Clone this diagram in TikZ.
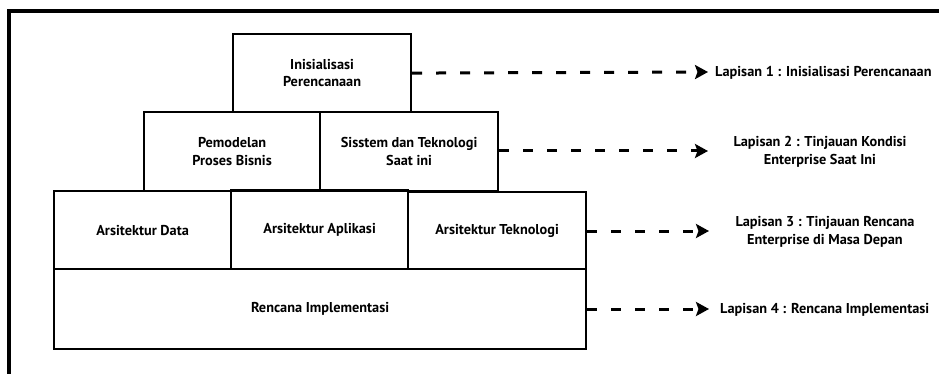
\documentclass[tikz,border=0pt]{standalone}
\usepackage{fontspec}
\setmainfont{PT Sans}
\usetikzlibrary{arrows.meta}
\begin{document}
\begin{tikzpicture}[x=1pt,y=-1pt,
  box/.style={draw, line width=2.2pt, anchor=north west, inner sep=0pt, align=center,
    font=\bfseries\fontsize{14.3}{17.5}\selectfont},
  lab/.style={inner sep=0pt, align=center, font=\bfseries\fontsize{14.3}{17.5}\selectfont},
  arr/.style={line width=3pt, dash pattern=on 10pt off 14pt, -{Stealth[length=13pt,width=14pt,inset=2.5pt]}}
]
\useasboundingbox (0,0) rectangle (939,374);
\draw[line width=4pt] (9,374) -- (9,11) -- (939,11);
\node[box, minimum width=178pt, minimum height=78pt] (init) at (232,33) {Inisialisasi\\Perencanaan};
\node[box, minimum width=176pt, minimum height=79pt] (pem) at (143,111) {Pemodelan\\Proses Bisnis};
\node[box, minimum width=178pt, minimum height=79pt] (sis) at (319,111) {Sisstem dan Teknologi\\Saat ini};
\node[box, minimum width=177pt, minimum height=78pt] (data) at (53,190) {Arsitektur Data};
\node[box, minimum width=177pt, minimum height=79pt] (apl) at (230,189) {Arsitektur Aplikasi};
\node[box, minimum width=178pt, minimum height=77pt] (tek) at (407,191) {Arsitektur Teknologi};
\node[box, minimum width=532pt, minimum height=80pt] (ren) at (53,268) {Rencana Implementasi};
\node[lab, anchor=west] (l1) at (715,73) {Lapisan 1 : Inisialisasi Perencanaan};
\node[lab] (l2) at (820,152) {Lapisan 2 : Tinjauan Kondisi\\Enterprise Saat Ini};
\node[lab] (l3) at (825,232) {Lapisan 3 : Tinjauan Rencana\\Enterprise di Masa Depan};
\node[lab, anchor=west] (l4) at (720,310) {Lapisan 4 : Rencana Implementasi};
\coordinate (t1) at (708,72);
\coordinate (t2) at (708,151);
\coordinate (t3) at (709,231);
\coordinate (t4) at (709,309);
\draw[arr] (init.east) -- (t1);
\draw[arr] (sis.east |- t2) -- (t2);
\draw[arr] (tek.east |- t3) -- (t3);
\draw[arr] (ren.east |- t4) -- (t4);
\end{tikzpicture}
\end{document}
